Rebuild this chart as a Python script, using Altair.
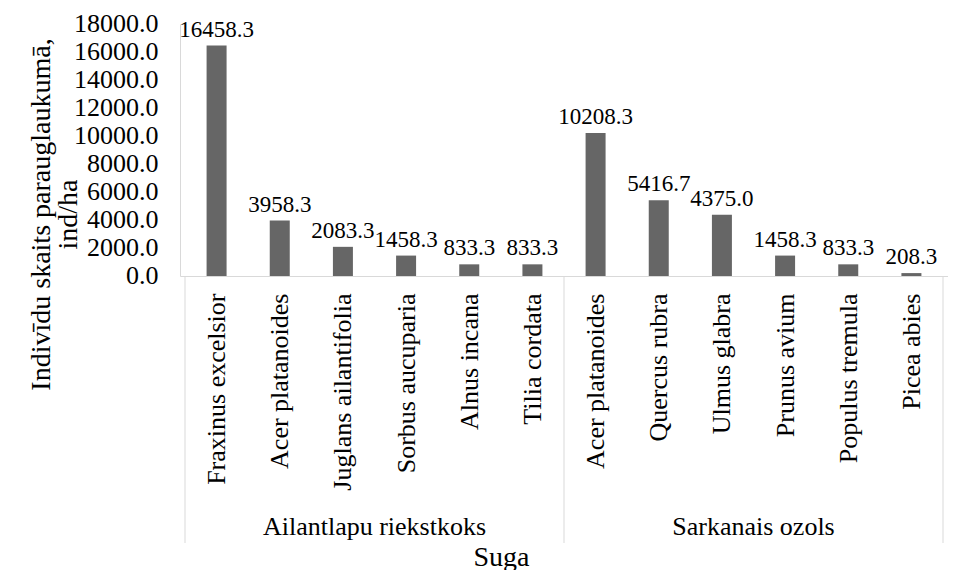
import json
import altair as alt
import pandas as pd

group_names = ["Ailantlapu riekstkoks", "Sarkanais ozols"]
species_1 = ["Fraxinus excelsior", "Acer platanoides", "Juglans ailantifolia",
             "Sorbus aucuparia", "Alnus incana", "Tilia cordata"]
values_1 = [16458.3, 3958.3, 2083.3, 1458.3, 833.3, 833.3]
species_2 = ["Acer platanoides", "Quercus rubra", "Ulmus glabra",
             "Prunus avium", "Populus tremula", "Picea abies"]
values_2 = [10208.3, 5416.7, 4375.0, 1458.3, 833.3, 208.3]
y_ticks = [0, 2000, 4000, 6000, 8000, 10000, 12000, 14000, 16000, 18000]

FONT = "Liberation Serif, Tinos, DejaVu Serif"

rows = []
idx = 0
for g, sp, vals in [(group_names[0], species_1, values_1), (group_names[1], species_2, values_2)]:
    for s, v in zip(sp, vals):
        rows.append({"idx": idx, "species": s, "group": g, "value": v})
        idx += 1
df = pd.DataFrame(rows)
n = len(df)

grp = df.groupby("group", sort=False)["idx"].agg(["min", "max", "mean"]).reset_index()
grp_df = pd.DataFrame({"group": grp["group"], "center": grp["mean"]})
div_pos = sorted(set([grp["min"].min() - 0.5] + list(grp["max"] + 0.5)))
div_df = pd.DataFrame({"pos": div_pos})

names_all = json.dumps(list(df["species"]))
AXIS_GRAY = "#d9d9d9"

xscale = alt.Scale(domain=[-0.5, n - 0.5], nice=False, zero=False)
yscale = alt.Scale(domain=[0, 18000], nice=False)

xaxis = alt.Axis(
    values=list(range(n)), labelExpr=names_all + "[datum.value]",
    labelAngle=270, labelAlign="right", labelBaseline="middle",
    labelPadding=17, labelFontSize=26,
    labelLimit=0, labelOverlap=False, ticks=False, grid=False,
    title="Suga", titleX=321, titleY=281, titleAngle=0,
    titleAlign="center", titleBaseline="middle")
yaxis = alt.Axis(
    values=y_ticks, format=".1f", ticks=False, grid=False,
    labelPadding=22, labelFontSize=26, labelOffset=-1,
    labelOverlap=False, labelSeparation=0,
    title=["Indivīdu skaits parauglaukumā,", "ind/ha"],
    titleLineHeight=27, titleX=-139, titleY=190,
    titleAngle=270, titleAlign="center", titleBaseline="middle")

bars = alt.Chart(df).mark_bar(size=20, color="#666666").encode(
    x=alt.X("idx:Q", scale=xscale, axis=xaxis),
    y=alt.Y("value:Q", scale=yscale, axis=yaxis),
)

labels = alt.Chart(df).mark_text(
    fontSize=23, baseline="bottom", dy=-4, color="#000000"
).encode(
    x=alt.X("idx:Q", scale=xscale, axis=xaxis),
    y=alt.Y("value:Q", scale=yscale, axis=yaxis),
    text=alt.Text("value:Q", format=".1f"),
)

dividers = alt.Chart(div_df).mark_rule(color=AXIS_GRAY, strokeWidth=1).encode(
    x=alt.X("pos:Q", scale=xscale, axis=xaxis),
    y=alt.value(252),
    y2=alt.value(519),
)

group_text = alt.Chart(grp_df).mark_text(
    fontSize=26, baseline="middle", align="center", color="#000000"
).encode(
    x=alt.X("center:Q", scale=xscale, axis=xaxis),
    y=alt.value(503),
    text="group:N",
)

chart = alt.layer(bars, labels, dividers, group_text).properties(
    width=768, height=252,
    autosize=alt.AutoSizeParams(type="none"),
    padding={"left": 172, "top": 16, "right": 0, "bottom": 294},
    background="#ffffff",
).configure_view(stroke=None).configure_axis(
    labelFont=FONT, titleFont=FONT, labelColor="#000000", titleColor="#000000",
    titleFontSize=28, titleFontWeight="normal", domainColor=AXIS_GRAY,
    labelOverlap=False,
).configure_text(font=FONT)

chart.save("out.html", embed_options={"renderer": "svg", "actions": False})
